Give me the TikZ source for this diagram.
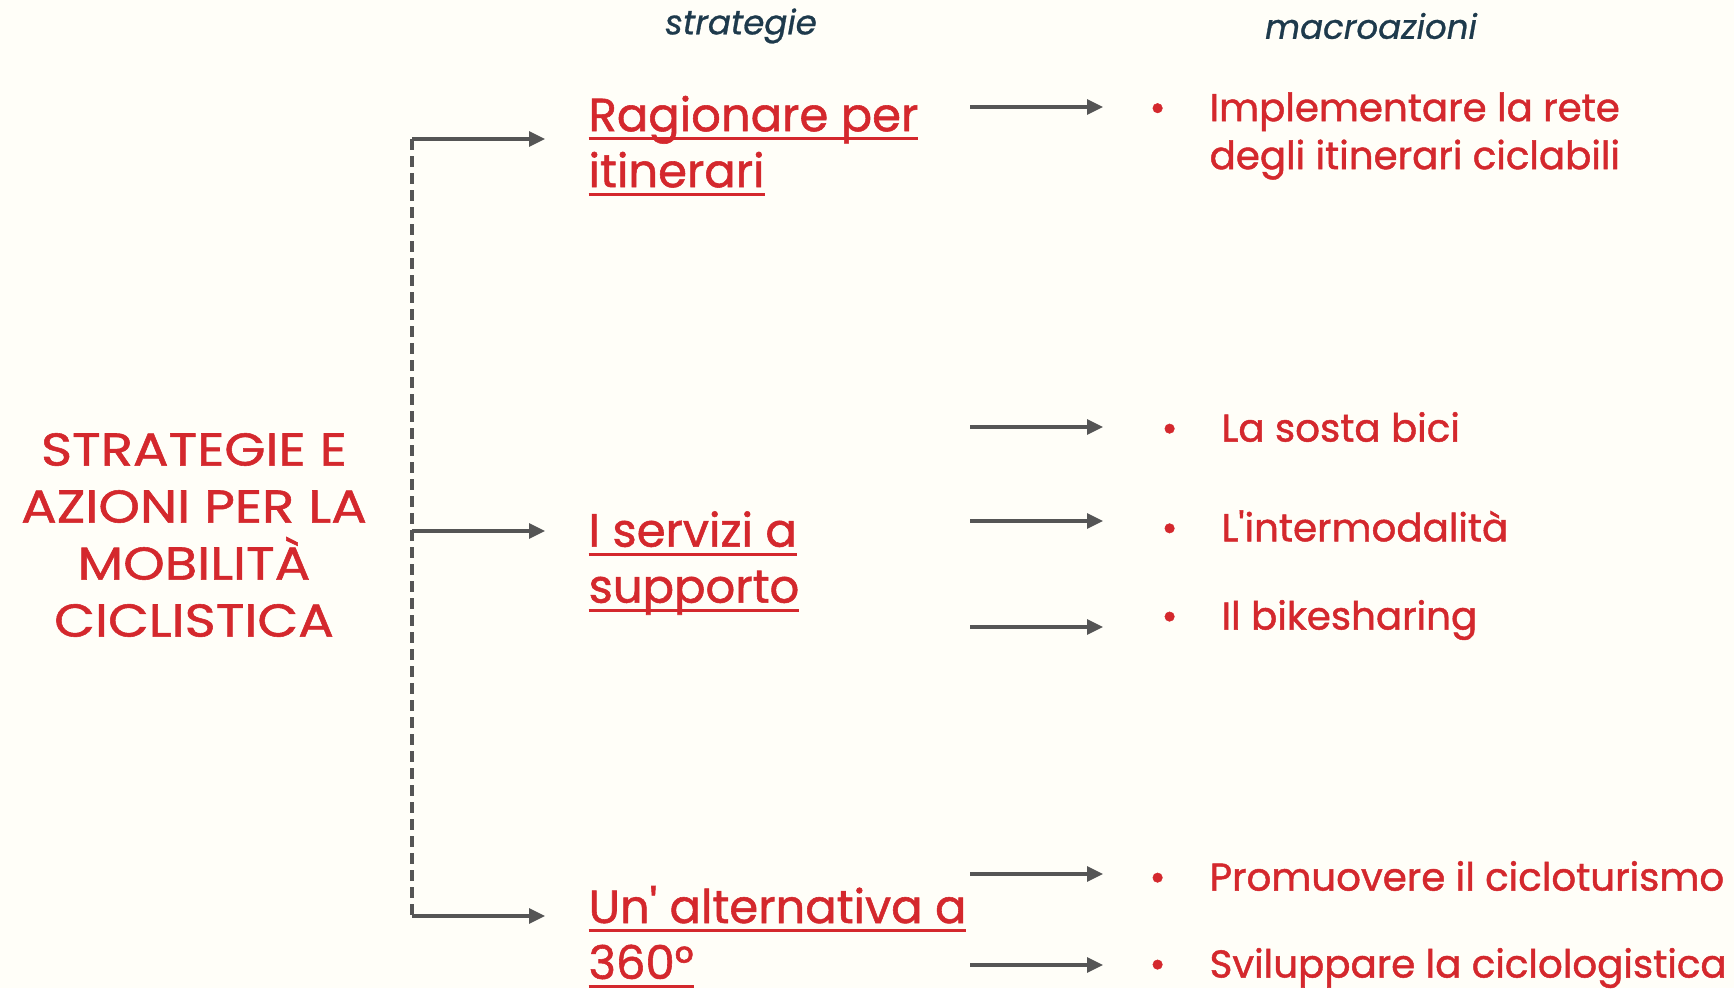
\documentclass[tikz,border=0pt]{standalone}
\usepackage{fontspec}
\setmainfont{Poppins}
\newfontfamily\titfont{Poppins}[FakeBold=1.2,FakeStretch=1.15]
\newfontfamily\strfont{Poppins}[FakeBold=1.2]
\newfontfamily\macfont{Poppins}[FakeBold=1.2]
\newfontfamily\tesfont{Poppins}[FakeBold=0.8]
\usepackage{xcolor}
\usetikzlibrary{arrows.meta, positioning}
\definecolor{rosso}{HTML}{D4282D}
\definecolor{grigio}{HTML}{555555}
\definecolor{blu}{HTML}{1E3A4C}
\definecolor{sfondo}{HTML}{FFFEF8}
\newcommand{\sott}[1]{\setbox0\hbox{#1}\rlap{\rule[-9pt]{\wd0}{3pt}}\box0}

\begin{document}
\begin{tikzpicture}[x=1pt,y=-1pt,>={Triangle[length=16pt,width=15pt]},line width=3.2pt]
  \tikzstyle{every node}=[inner sep=0pt,text=rosso]
  \tikzstyle{titolo}=[align=center,font=\titfont\fontsize{46}{57}\selectfont]
  \tikzstyle{testa}=[text=blu,font=\tesfont\fontsize{34}{40}\selectfont\itshape]
  \tikzstyle{strat}=[anchor=west,align=left,font=\strfont\fontsize{46.5}{56}\selectfont]
  \tikzstyle{macro}=[anchor=west,align=left,font=\macfont\fontsize{38.8}{48}\selectfont]
  \tikzstyle{freccia}=[->,draw=grigio]

  \useasboundingbox[fill=sfondo] (0,0) rectangle (1734,988);

  \node[titolo](t_0) at (194,535){STRATEGIE E\\AZIONI PER LA\\MOBILITÀ\\CICLISTICA};
  \node[testa](h_1) at (741,26){strategie};
  \node[testa](h_2) at (1371,26){macroazioni};

  \node[strat](s_1) at (587,146){\sott{Ragionare per}\\\sott{itinerari}};
  \node[strat](s_2) at (587,563){\sott{I servizi a}\\\sott{supporto}};
  \node[strat](s_3) at (587,937){\sott{Un\textquotesingle{} alternativa a}\\\sott{360°}};

  \node[macro](m_1) at (1208,136){\llap{\textbullet\hspace{44pt}}Implementare la rete\\degli itinerari ciclabili};
  \node[macro](m_2) at (1220,427){\llap{\textbullet\hspace{44pt}}La sosta bici};
  \node[macro](m_3) at (1220,526){\llap{\textbullet\hspace{44pt}}L\textquotesingle intermodalità};
  \node[macro](m_4) at (1220,620){\llap{\textbullet\hspace{44pt}}Il bikesharing};
  \node[macro](m_5) at (1208,876){\llap{\textbullet\hspace{44pt}}Promuovere il cicloturismo};
  \node[macro](m_6) at (1208,968){\llap{\textbullet\hspace{44pt}}Sviluppare la ciclologistica};

  % dorsale tratteggiata
  \coordinate (c_1) at (412,139);
  \coordinate (c_2) at (412,531);
  \coordinate (c_3) at (412,916);
  \draw[grigio,dash pattern=on 11pt off 6pt] (c_1) -- (c_3);
  \foreach \i in {1,2,3}
    \draw[freccia,shorten >=42pt] (c_\i) -- (c_\i -| s_\i.west);

  % frecce verso le macroazioni
  \coordinate (p) at (1103,0);
  \foreach \i/\y in {1/107,2/427,3/521,4/627,5/874,6/965}{
    \coordinate (a_\i) at (970,\y);
    \draw[freccia] (a_\i) -- (a_\i -| p);
  }
\end{tikzpicture}
\end{document}
